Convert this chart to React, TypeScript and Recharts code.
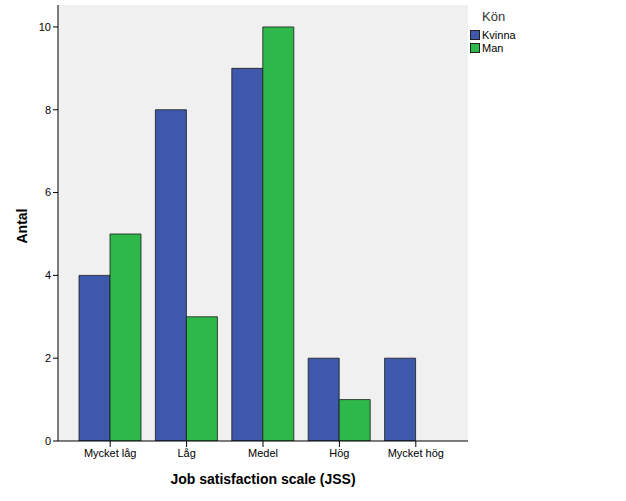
import React from 'react';
import { BarChart, Bar, XAxis, YAxis, CartesianGrid } from 'recharts';

const categories = ['Mycket låg', 'Låg', 'Medel', 'Hög', 'Mycket hög'];
const kvinna = [4, 8, 9, 2, 2];
const man = [5, 3, 10, 1, 0];
const yTicks = [0, 2, 4, 6, 8, 10];
const legendTitle = 'Kön';
const seriesNames = ['Kvinna', 'Man'];

const data = categories.map((c, i) => ({ name: c, Kvinna: kvinna[i], Man: man[i] }));

const BLUE = '#3e58ac';
const GREEN = '#2fb84a';
const COLORS = [BLUE, GREEN];
const FONT = '"Liberation Sans", Arial, sans-serif';

function ChartLegend() {
  return (
    <div
      style={{
        position: 'absolute',
        left: 470,
        top: 9,
        fontFamily: FONT,
        fontSize: 11,
        color: '#000',
      }}
    >
      <div style={{ fontSize: 13, color: '#333', marginLeft: 12, marginBottom: 4 }}>{legendTitle}</div>
      {seriesNames.map((label, i) => (
        <div key={label} style={{ display: 'flex', alignItems: 'center', height: 13 }}>
          <span
            style={{
              display: 'inline-block',
              width: 10,
              height: 10,
              boxSizing: 'border-box',
              background: COLORS[i],
              border: '1px solid #222',
              marginRight: 2,
            }}
          />
          {label}
        </div>
      ))}
    </div>
  );
}

export default function App() {
  return (
    <div style={{ position: 'absolute', left: 0, top: 0, width: 626, height: 501, background: '#fff' }}>
      <BarChart
        width={626}
        height={501}
        data={data}
        margin={{ top: 5, right: 158, left: 0, bottom: 0 }}
        barGap={0}
        barCategoryGap={7}
      >
        <CartesianGrid horizontal={false} vertical={false} fill="#f0f0f0" />
        <XAxis
          dataKey="name"
          height={60}
          padding={{ left: 14, right: 14 }}
          tick={{ fontSize: 11, fill: '#000', fontFamily: FONT }}
          tickLine={{ stroke: '#000' }}
          tickSize={6}
          axisLine={{ stroke: '#000' }}
          interval={0}
          label={{
            value: 'Job satisfaction scale (JSS)',
            position: 'insideBottom',
            offset: 17,
            style: { fontSize: 14, fontWeight: 'bold', fill: '#000', fontFamily: FONT },
          }}
        />
        <XAxis xAxisId="top" orientation="top" dataKey="name" tick={false} tickLine={false} axisLine={{ stroke: '#888' }} height={0} />
        <YAxis
          width={58}
          domain={[0, 10.53]}
          ticks={yTicks}
          allowDataOverflow
          tick={{ fontSize: 11, fill: '#000', fontFamily: FONT }}
          tickLine={{ stroke: '#000' }}
          tickSize={5}
          axisLine={{ stroke: '#000' }}
          label={{
            value: 'Antal',
            angle: -90,
            position: 'insideLeft',
            offset: 22,
            dy: 3,
            style: { fontSize: 14, fontWeight: 'bold', fill: '#000', fontFamily: FONT, textAnchor: 'middle' },
          }}
        />
        <YAxis yAxisId="right" orientation="right" tick={false} tickLine={false} axisLine={{ stroke: '#888' }} width={0} />
        {seriesNames.map((s, i) => (
          <Bar key={s} dataKey={s} fill={COLORS[i]} stroke="#1a1a1a" strokeWidth={0.8} isAnimationActive={false} />
        ))}
      </BarChart>
      <ChartLegend />
    </div>
  );
}
